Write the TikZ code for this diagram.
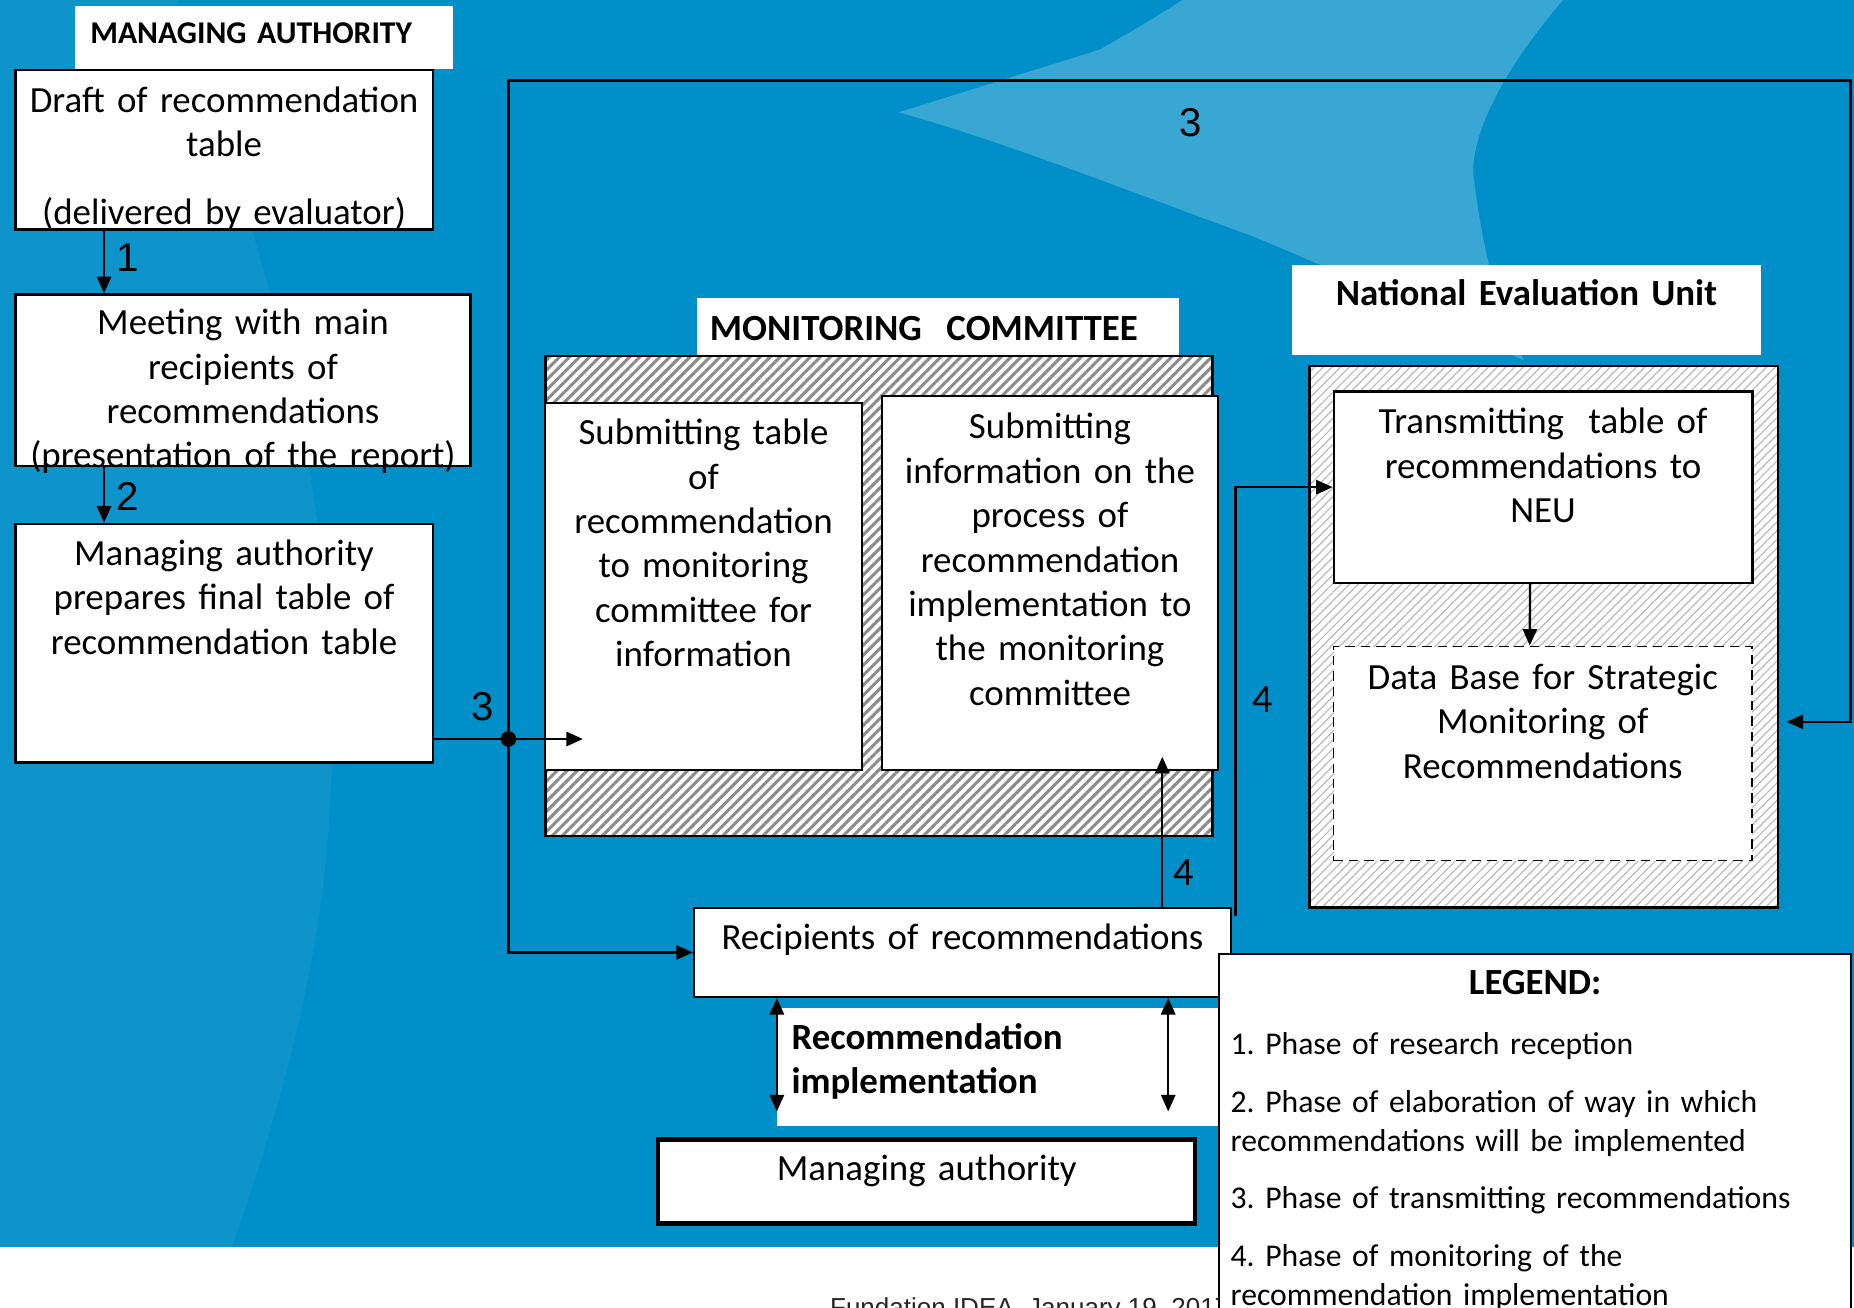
\documentclass[tikz,border=0pt]{standalone}
\usepackage{fontspec}
\setmainfont{Carlito}
\newfontfamily\arialfont{Liberation Sans}
\usetikzlibrary{positioning, arrows.meta, calc, patterns.meta}

\definecolor{bgBlue}{RGB}{0,143,200}

\tikzset{
	box/.style={draw, fill=white, line width=1pt, inner xsep=0pt, inner ysep=0pt, align=center, anchor=north west},
	tag/.style={fill=white, inner ysep=0pt, anchor=north west},
	num/.style={font=\arialfont\fontsize{17}{17}\selectfont},
	arr/.style={-{Triangle[length=7pt,width=6pt]}, line width=1pt},
	arrs/.style={{Triangle[length=7pt,width=6pt]}-{Triangle[length=7pt,width=6pt]}, line width=1pt},
	hatchDark/.style={draw, line width=1pt, inner sep=0pt, anchor=north west, preaction={fill=white},
		pattern={Lines[angle=45,distance=3pt,line width=1.3pt]}, pattern color=gray!90},
	hatchLight/.style={draw, line width=1pt, inner sep=0pt, anchor=north west, preaction={fill=white},
		pattern={Lines[angle=45,distance=2.6pt,line width=0.5pt]}, pattern color=gray!55},
}

\begin{document}
\frenchspacing
\begin{tikzpicture}[x=0.5pt, y=-0.5pt, font=\fontsize{15.6}{18.8}\selectfont]
	\useasboundingbox (0,0) rectangle (1568,1106);
	\clip (0,0) rectangle (1568,1106);
	% background
	\fill[white] (0,0) rectangle (1568,1106);
	\fill[bgBlue] (0,0) rectangle (1568,1055);
	\fill[white, opacity=0.22] (760,95) -- (930,42) .. controls (960,25) and (985,10) .. (1000,0) -- (1322,0)
		.. controls (1270,60) and (1240,120) .. (1247,155) .. controls (1255,220) and (1270,270) .. (1289,305)
		.. controls (1200,260) and (1120,225) .. (1060,200) .. controls (950,160) and (850,120) .. cycle;
	\fill[white, opacity=0.05] (0,0) -- (150,0) .. controls (220,200) and (280,400) .. (280,600)
		.. controls (285,760) and (250,900) .. (196,1055) -- (0,1055) -- cycle;
	
	% managing authority column
	\node[tag, inner xsep=6.5pt, text width=147pt, text height=15.5pt, text depth=11pt, align=left,
		font=\bfseries\fontsize{13.4}{16}\selectfont] (maTag) at (63,5) {MANAGING AUTHORITY};
	\node[box, text width=176.5pt, text height=18pt, text depth=49.5pt] (draftTable) at (12,58)
		{Draft of recommendation\\ table\\[10pt] (delivered by evaluator)};
	\node[box, text width=192.5pt, text height=17pt, text depth=55.5pt] (meetingBox) at (12,248)
		{Meeting with main\\ recipients of\\ recommendations\\ (presentation of the report)};
	\node[box, text width=176.5pt, text height=17.5pt, text depth=83.5pt] (finalTable) at (12,442)
		{Managing authority\\ prepares final table of\\ recommendation table};
	
	% monitoring committee
	\node[tag, inner xsep=5.5pt, text width=193pt, text height=18pt, text depth=6pt, align=left,
		font=\bfseries\fontsize{15.6}{18.8}\selectfont] (mcTag) at (589,252) {MONITORING~ COMMITTEE};
	\node[hatchDark, minimum width=282pt, minimum height=203pt] (mcFrame) at (460,300) {};
	\node[box, text width=134pt, text height=17.5pt, text depth=137.5pt] (submitTable) at (460,340)
		{Submitting table\\ of\\ recommendation\\ to monitoring\\ committee for\\ information};
	\node[box, text width=142pt, text height=18pt, text depth=140pt] (submitInfo) at (745,334)
		{Submitting\\ information on the\\ process of\\ recommendation\\ implementation to\\ the monitoring\\ committee};
	
	% national evaluation unit
	\node[tag, inner xsep=0pt, text width=198.5pt, text height=17pt, text depth=21pt, align=center,
		font=\bfseries\fontsize{15.6}{18.8}\selectfont] (neuTag) at (1092,224) {National Evaluation Unit};
	\node[hatchLight, minimum width=198pt, minimum height=229pt] (neuFrame) at (1107,309) {};
	\node[box, text width=177pt, text height=18pt, text depth=63pt] (transmitNeu) at (1127,330)
		{Transmitting~ table of\\ recommendations to\\ NEU};
	\node[box, dashed, dash pattern=on 4pt off 2.5pt, line width=0.8pt, text width=177pt, text height=18pt,
		text depth=72.5pt] (dataBase) at (1127,546)
		{Data Base for Strategic\\ Monitoring of\\ Recommendations};
	
	% recipients and implementation
	\node[box, text width=227pt, text height=17.5pt, text depth=20pt] (recipients) at (586,767)
		{Recipients of recommendations};
	\node[tag, inner xsep=6pt, text width=174.5pt, text height=17.5pt, text depth=32.5pt, align=left,
		font=\bfseries\fontsize{15.6}{18.8}\selectfont] (implTag) at (657,852)
		{Recommendation\\ implementation};
	\node[box, line width=1.8pt, text width=227pt, text height=17.5pt, text depth=18pt] (maBottom) at (555,962)
		{Managing authority};
	
	% free ends of the connectors
	\coordinate (junction) at (430,625);
	\coordinate (submitIn) at (493,625);
	\coordinate (loopTL) at (430,68);
	\coordinate (loopTR) at (1565,68);
	\coordinate (upFour) at (983,640);
	\coordinate (startFour) at (1045,775);
	\coordinate (implA) at (657,940);
	\coordinate (implB) at (988,940);
	
	\draw[arr] ([xshift=38pt]draftTable.south west) -- ([xshift=38pt]meetingBox.north west);
	\draw[arr] ([xshift=38pt]meetingBox.south west) -- ([xshift=38pt]finalTable.north west);
	\draw[line width=1pt] (finalTable.east |- junction) -- (junction);
	\draw[arr] (junction) -- (submitIn);
	\fill (junction) circle (3.3pt);
	\draw[arr] (loopTL) |- (recipients.west);
	\draw[arr] (loopTL) -| (loopTR) |- ([xshift=3.5pt,yshift=-36pt]neuFrame.east);
	\draw[arr] (recipients.north -| upFour) -- (upFour);
	\draw[arr] (startFour) |- (transmitNeu.west);
	\draw[arr] ([xshift=-5.5pt]transmitNeu.south) -- ([xshift=-5.5pt]dataBase.north);
	\draw[arrs] (recipients.south -| implA) -- (implA);
	\draw[arrs] (recipients.south -| implB) -- (implB);
	
	% phase numbers
	\node[num] (numOne) at (108,218) {1};
	\node[num] (numTwo) at (108,420) {2};
	\node[num] (numThreeA) at (408,598) {3};
	\node[num] (numThreeB) at (1007,104) {3};
	\node[font=\fontsize{17}{17}\selectfont] (numFourA) at (1001,738) {4};
	\node[font=\fontsize{17}{17}\selectfont] (numFourB) at (1068,592) {4};
	
	\node[anchor=base west, font=\arialfont\fontsize{11}{11}\selectfont, text=black!85] (footer) at (695,1113)
		{Fundation IDEA, January 19, 2017};
	
	% legend
	\node[box, line width=0.8pt, inner xsep=5pt, text width=257.5pt, text height=17pt, text depth=160pt,
		align=left, font=\fontsize{13.4}{16.5}\selectfont] (legendBox) at (1030,806)
		{\makebox[257.5pt][c]{\bfseries\fontsize{15.6}{18.8}\selectfont LEGEND:}\\[9pt]
		1. Phase of research reception\\[8pt]
		2. Phase of elaboration of way in which\\ recommendations will be implemented\\[7.5pt]
		3. Phase of transmitting recommendations\\[8pt]
		4. Phase of monitoring of the\\ recommendation implementation};
\end{tikzpicture}
\end{document}
